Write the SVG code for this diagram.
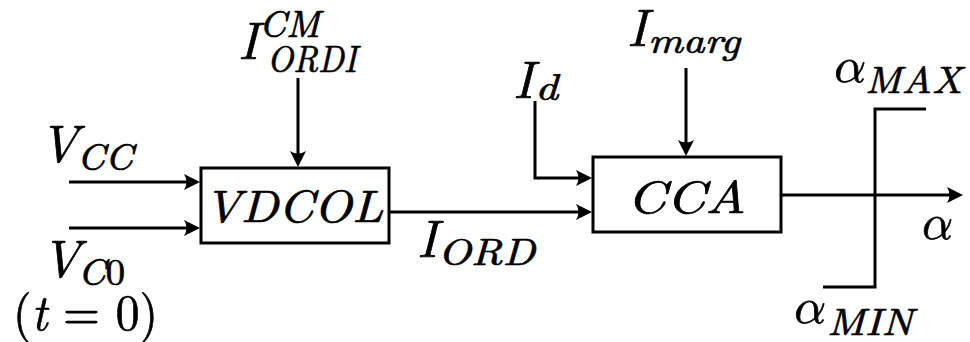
<svg xmlns="http://www.w3.org/2000/svg" width="970" height="342" viewBox="0 0 970 342">
<style>
text{font-family:"Latin Modern Roman","Latin Modern Math","CMU Serif","Liberation Serif",serif;font-style:italic;fill:#000;stroke:#000;stroke-width:0.7}
.u{font-style:normal}
.m{font-size:53px}
.b{font-size:46px}
.s{font-size:38px}
.a{font-size:50px}
.box{fill:#fff;stroke:#000;stroke-width:3}
.ln{fill:none;stroke:#000;stroke-width:3}
</style>
<defs>
<marker id="arr" viewBox="-13 -9 18 18" refX="0" refY="0" markerWidth="18" markerHeight="18" orient="auto" markerUnits="userSpaceOnUse">
<path d="M4,0 L-12,-8 Q-7,0 -12,8 Z" fill="#000"/>
</marker>
</defs>
<rect width="970" height="342" fill="#fff"/>
<g id="connectors">
<line class="ln" x1="69" y1="182" x2="196" y2="182" marker-end="url(#arr)"/>
<line class="ln" x1="69" y1="228" x2="196" y2="228" marker-end="url(#arr)"/>
<line class="ln" x1="298" y1="78" x2="298" y2="163" marker-end="url(#arr)"/>
<line class="ln" x1="389" y1="212" x2="588" y2="212" marker-end="url(#arr)"/>
<polyline class="ln" points="535,101 535,178 588,178" marker-end="url(#arr)"/>
<line class="ln" x1="686" y1="68" x2="686" y2="152" marker-end="url(#arr)"/>
<line class="ln" x1="781" y1="195" x2="959" y2="195" marker-end="url(#arr)"/>
<polyline class="ln" points="823,287 875,287 875,109 926,109"/>
</g>
<g id="vdcol">
<rect class="box" x="201" y="168" width="188" height="75"/>
<text class="b" x="204" y="222" textLength="179" lengthAdjust="spacingAndGlyphs">VDCOL</text>
</g>
<g id="cca">
<rect class="box" x="593" y="157" width="188" height="75"/>
<text class="b" x="627" y="213" textLength="119" lengthAdjust="spacingAndGlyphs">CCA</text>
</g>
<g id="label-vcc">
<text class="m" x="39" y="162">V</text>
<text class="s" x="77" y="170" textLength="56" lengthAdjust="spacingAndGlyphs">CC</text>
</g>
<g id="label-vc0">
<text class="m" x="41" y="277">V</text>
<text class="s" x="78" y="285" textLength="47" lengthAdjust="spacingAndGlyphs">C<tspan class="u">0</tspan></text>
<text class="m" x="13" y="330" textLength="145" lengthAdjust="spacingAndGlyphs" style="font-size:51px"><tspan class="u">(</tspan>t<tspan class="u"> = 0)</tspan></text>
</g>
<g id="label-iordi">
<text class="m" x="238" y="59">I</text>
<text class="s" x="259" y="37" textLength="61" lengthAdjust="spacingAndGlyphs">CM</text>
<text class="s" x="267" y="72" textLength="90" lengthAdjust="spacingAndGlyphs">ORDI</text>
</g>
<g id="label-iord">
<text class="m" x="417" y="257">I</text>
<text class="s" x="438" y="265" textLength="97" lengthAdjust="spacingAndGlyphs">ORD</text>
</g>
<g id="label-id">
<text class="m" x="513" y="98">I</text>
<text class="s" x="535" y="100" textLength="23" lengthAdjust="spacingAndGlyphs">d</text>
</g>
<g id="label-imarg">
<text class="m" x="627" y="46">I</text>
<text class="s" x="648" y="53" textLength="92" lengthAdjust="spacingAndGlyphs">marg</text>
</g>
<g id="label-amax">
<text class="a" x="831" y="82" textLength="32" lengthAdjust="spacingAndGlyphs">α</text>
<text class="s" x="865" y="93" textLength="97" lengthAdjust="spacingAndGlyphs">MAX</text>
</g>
<g id="label-alpha">
<text class="a" x="919" y="239" textLength="31" lengthAdjust="spacingAndGlyphs">α</text>
</g>
<g id="label-amin">
<text class="a" x="791" y="323" textLength="32" lengthAdjust="spacingAndGlyphs">α</text>
<text class="s" x="827" y="335" textLength="86" lengthAdjust="spacingAndGlyphs">MIN</text>
</g>
</svg>
